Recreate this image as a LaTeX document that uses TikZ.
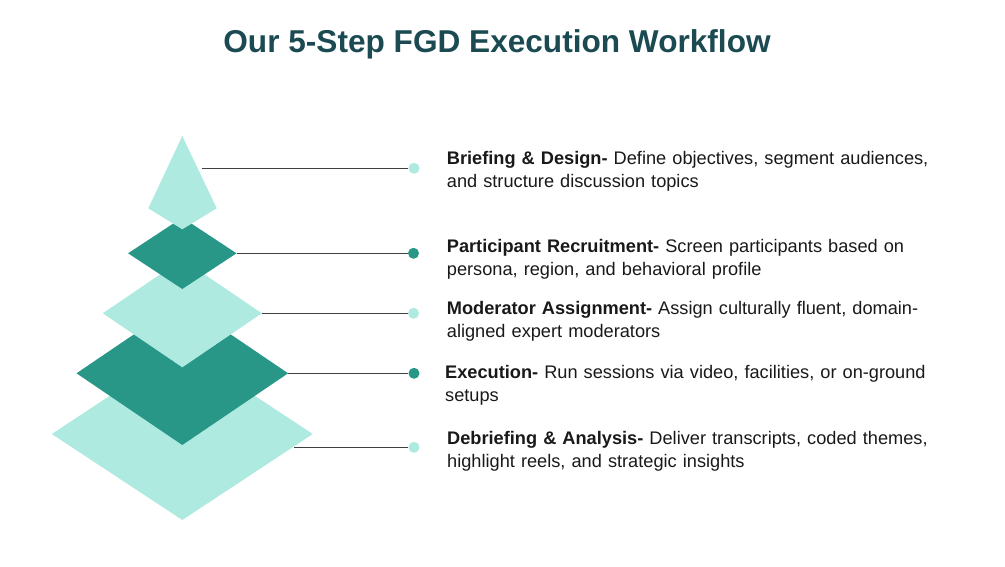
\documentclass[tikz,border=0pt]{standalone}
\usepackage{fontspec}
\setmainfont{Liberation Sans}
\usetikzlibrary{shapes.geometric}
\definecolor{litecol}{HTML}{AFEAE1}
\definecolor{darkcol}{HTML}{289788}
\definecolor{titlecol}{HTML}{1B4A52}
\definecolor{linkcol}{HTML}{404040}
\tikzset{
  layer/.style={diamond, inner sep=0pt, outer sep=0pt, draw=none},
  lite/.style={layer, fill=litecol},
  dark/.style={layer, fill=darkcol},
  dot/.style={circle, inner sep=0pt, minimum size=11pt},
  link/.style={draw=linkcol, line width=1.1pt},
  desc/.style={anchor=base west, inner sep=0pt, align=left, text width=530pt,
    font=\fontsize{18.2}{23.3}\selectfont, text=black!90}
}

\begin{document}
\begin{tikzpicture}[x=1pt, y=-1pt]
  \useasboundingbox (0,0) rectangle (1005,567);

  % Title
  \node[font=\fontsize{31.6}{38}\selectfont\bfseries, text=titlecol] (title) at (497,44) {Our 5-Step FGD Execution Workflow};

  % Define nodes
  \node[lite, minimum width=261pt, minimum height=172pt] (d_5) at (182.3,434) {};
  \node[dark, minimum width=211.6pt, minimum height=143.4pt] (d_4) at (182.3,373.3) {};
  \node[lite, minimum width=159pt, minimum height=108pt] (d_3) at (182.3,313.3) {};
  \node[dark, minimum width=108.4pt, minimum height=71.4pt] (d_2) at (182.3,253.3) {};
  \fill[litecol] (182.3,136) -- (216.7,208.3) -- (182.3,229.3) -- (148.3,208.3) -- cycle;
  \coordinate (k_1) at (202.3,168.3);
  \coordinate (e_5) at (294.3,447.3);

  \node[dot, fill=litecol] (p_1) at (414,168.3) {};
  \node[dot, fill=darkcol] (p_2) at (413.5,253.3) {};
  \node[dot, fill=litecol] (p_3) at (413.5,313.3) {};
  \node[dot, fill=darkcol] (p_4) at (414,373.3) {};
  \node[dot, fill=litecol] (p_5) at (414,447.3) {};

  \node[desc] (t_1) at (446.7,164.5) {\textbf{Briefing \& Design-} Define objectives, segment audiences,\\and structure discussion topics};
  \node[desc] (t_2) at (446.7,252.5) {\textbf{Participant Recruitment-} Screen participants based on\\persona, region, and behavioral profile};
  \node[desc] (t_3) at (446.7,314) {\textbf{Moderator Assignment-} Assign culturally fluent, domain-\\aligned expert moderators};
  \node[desc] (t_4) at (445,378.5) {\textbf{Execution-} Run sessions via video, facilities, or on-ground\\setups};
  \node[desc] (t_5) at (447,444) {\textbf{Debriefing \& Analysis-} Deliver transcripts, coded themes,\\highlight reels, and strategic insights};

  % Connect the nodes
  \draw[link] (k_1) -- (p_1);
  \draw[link] (d_2.east) -- (p_2);
  \draw[link] (d_3.east) -- (p_3);
  \draw[link] (d_4.east) -- (p_4);
  \draw[link] (e_5) -- (p_5);

\end{tikzpicture}
\end{document}
